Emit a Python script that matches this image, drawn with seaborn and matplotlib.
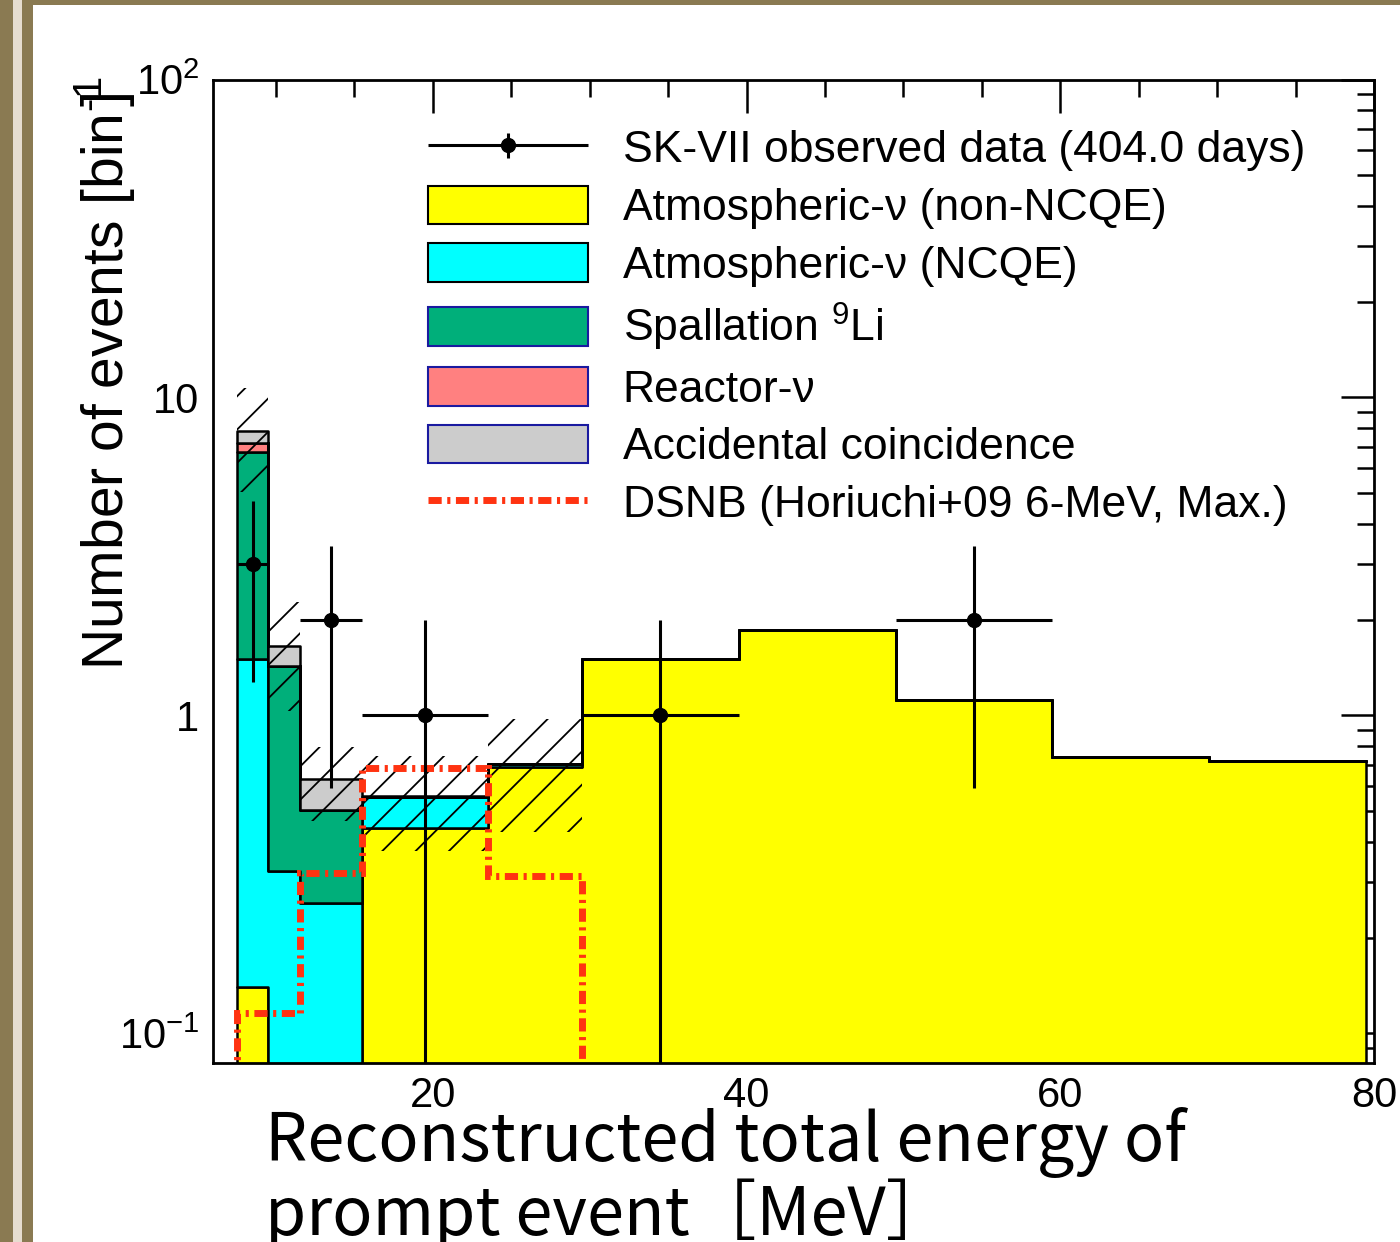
import numpy as np
import pandas as pd
import matplotlib
matplotlib.use("Agg")
import matplotlib.pyplot as plt
import seaborn as sns
from matplotlib.patches import Patch, Rectangle
from matplotlib.lines import Line2D
from matplotlib.legend_handler import HandlerErrorbar
from matplotlib.container import ErrorbarContainer
from matplotlib.ticker import MultipleLocator, LogLocator, FixedLocator, FixedFormatter, NullFormatter

# ---------------- data ----------------
bin_edges = [7.5, 9.5, 11.5, 15.5, 23.5, 29.5, 39.5, 49.5, 59.5, 69.5, 79.5]
atm_non_ncqe = [0.14, 0.0, 0.0, 0.443, 0.687, 1.50, 1.86, 1.12, 0.738, 0.721]
atm_ncqe = [1.36, 0.323, 0.258, 0.11, 0.017, 0.0, 0.0, 0.0, 0.0, 0.0]
spallation_li9 = [5.24, 1.107, 0.248, 0.0, 0.0, 0.0, 0.0, 0.0, 0.0, 0.0]
reactor_nu = [0.45, 0.0, 0.0, 0.0, 0.0, 0.0, 0.0, 0.0, 0.0, 0.0]
accidental = [0.68, 0.22, 0.125, 0.007, 0.0, 0.0, 0.0, 0.0, 0.0, 0.0]

sys_edges = [7.5, 9.5, 11.5, 15.5, 23.5, 29.5]
sys_upper = [10.7, 2.28, 0.794, 0.747, 0.975]
sys_lower = [5.06, 1.035, 0.467, 0.376, 0.429]

dsnb_edges = [7.5, 9.5, 11.5, 15.5, 23.5, 29.5]
dsnb_values = [0.116, 0.116, 0.32, 0.682, 0.313]

data_x = [8.5, 13.5, 19.5, 34.5, 54.5]
data_y = [3, 2, 1, 1, 2]
data_xerr = [1, 2, 4, 5, 5]
data_yerr = [1.73, 1.41, 1.0, 1.0, 1.41]

component_names = ["Accidental coincidence", "Reactor-ν", "Spallation $^{9}$Li",
                   "Atmospheric-ν (NCQE)", "Atmospheric-ν (non-NCQE)"]
component_values = [accidental, reactor_nu, spallation_li9, atm_ncqe, atm_non_ncqe]
component_colors = ["#cccccc", "#ff8080", "#00af7a", "#00ffff", "#ffff00"]
legend_edge = ["#1a1aa0", "#1a1aa0", "#1a1aa0", "black", "black"]

data_label = "SK-VII observed data (404.0 days)"
dsnb_label = "DSNB (Horiuchi+09 6-MeV, Max.)"
ytick_vals = [0.1, 1, 10, 100]
ytick_labels = ["$10^{-1}$", "1", "10", "$10^{2}$"]

# ---------------- style ----------------
sns.set_style("white")
plt.rcParams["font.family"] = ["Liberation Sans", "DejaVu Sans"]
plt.rcParams["mathtext.fontset"] = "custom"
plt.rcParams["mathtext.rm"] = "Liberation Sans"
plt.rcParams["mathtext.it"] = "Liberation Sans:italic"
plt.rcParams["mathtext.bf"] = "Liberation Sans:bold"
plt.rcParams["hatch.linewidth"] = 1.3
for k in ["text.color", "axes.labelcolor", "xtick.color", "ytick.color"]:
    plt.rcParams[k] = "black"

W, H = 1400, 1242
fig = plt.figure(figsize=(W / 100, H / 100), dpi=100)
fig.patch.set_facecolor("white")
ax_l, ax_r, ax_t, ax_b = 213.3, 1374.0, 79.5, 1062.5
ax = fig.add_axes([ax_l / W, 1 - ax_b / H, (ax_r - ax_l) / W, (ax_b - ax_t) / H])

# slide frame decoration
brown, beige = "#8a7a52", "#e6ddd0"
for x0, x1, y0, y1, c in [(0, 13, 0, H, brown), (13, 22, 0, H, beige),
                          (22, 33, 0, H, brown), (22, W, 0, 5, brown)]:
    fig.add_artist(Rectangle((x0 / W, 1 - y1 / H), (x1 - x0) / W, (y1 - y0) / H,
                             transform=fig.transFigure, facecolor=c, edgecolor="none", zorder=0))

# ---------------- stacked histogram ----------------
centers = [(a + b) / 2 for a, b in zip(bin_edges[:-1], bin_edges[1:])]
rows = []
for name, vals in zip(component_names, component_values):
    for c, v in zip(centers, vals):
        rows.append({"E": c, "w": v, "comp": name})
df = pd.DataFrame(rows)

sns.histplot(data=df, x="E", weights="w", hue="comp", hue_order=component_names,
             palette=dict(zip(component_names, component_colors)),
             bins=bin_edges, multiple="stack", element="step", fill=True, alpha=1,
             edgecolor="black", linewidth=1.8, legend=False, ax=ax, zorder=2)

ax.set_yscale("log")

# systematic uncertainty band (hatched)
ax.fill_between(sys_edges, sys_lower + [sys_lower[-1]], sys_upper + [sys_upper[-1]],
                step="post", facecolor="none", edgecolor="black", hatch="/",
                linewidth=0, zorder=3)

# DSNB expectation
ax.stairs(dsnb_values, dsnb_edges, baseline=1e-3, color="#ff3311", linewidth=5,
          linestyle=(0, (1.9, 0.8, 0.45, 0.8)), zorder=4)

# observed data
eb = ax.errorbar(data_x, data_y, xerr=data_xerr, yerr=data_yerr, fmt="o", color="black",
                 markersize=10, elinewidth=2.2, capsize=0, zorder=5)

# ---------------- axes ----------------
ax.set_xlim(6, 80)
ax.set_ylim(0.081, 100)
ax.xaxis.set_major_locator(MultipleLocator(20))
ax.xaxis.set_minor_locator(MultipleLocator(5))
ax.yaxis.set_major_locator(FixedLocator(ytick_vals))
ax.yaxis.set_major_formatter(FixedFormatter(ytick_labels))
ax.yaxis.set_minor_locator(LogLocator(base=10, subs=np.arange(2, 10)))
ax.yaxis.set_minor_formatter(NullFormatter())
ax.tick_params(which="both", direction="in", top=True, right=True, width=1.8,
               colors="black", labelsize=30, pad=10)
ax.tick_params(which="major", length=24)
ax.tick_params(which="minor", length=12)
for s in ax.spines.values():
    s.set_linewidth(2.0)
    s.set_color("black")

ax.set_ylabel(r"Number of events [bin$^{\text{-}1}\!\!\!\!$]", fontsize=41, color="black")
ax.yaxis.label.set(rotation_mode="default", ha="center", va="top")
ax.yaxis.set_label_coords((105 - ax_l) / (ax_r - ax_l), 1.0 + (ax_t - 76) / (ax_b - ax_t))

ax.set_xlabel("Reconstructed total energy of\nprompt event［MeV］", fontsize=48,
              family=["Noto Sans CJK JP", "DejaVu Sans"], ha="left", va="top",
              linespacing=1.0, color="black")
ax.xaxis.set_label_coords((265 - ax_l) / (ax_r - ax_l), -(1107 - ax_b) / (ax_b - ax_t))

# ---------------- legend ----------------
handles = [eb]
labels = [data_label]
for name, col, ec in list(zip(component_names, component_colors, legend_edge))[::-1]:
    handles.append(Patch(facecolor=col, edgecolor=ec, linewidth=1.5))
    labels.append(name)
handles.append(Line2D([], [], color="#ff3311", linewidth=5,
                      linestyle=(0, (1.9, 0.8, 0.45, 0.8))))
labels.append(dsnb_label)

ax.legend(handles, labels, loc="upper left",
          bbox_to_anchor=(428 / W, 1 - 128 / H), bbox_transform=fig.transFigure,
          frameon=False, fontsize=32, handlelength=3.6, handleheight=0.95,
          handletextpad=0.78, labelspacing=0.32, borderpad=0, borderaxespad=0,
          numpoints=1, labelcolor="black",
          handler_map={ErrorbarContainer: HandlerErrorbar(xerr_size=1.8, yerr_size=0.28)})

fig.savefig("out.png", dpi=100)
